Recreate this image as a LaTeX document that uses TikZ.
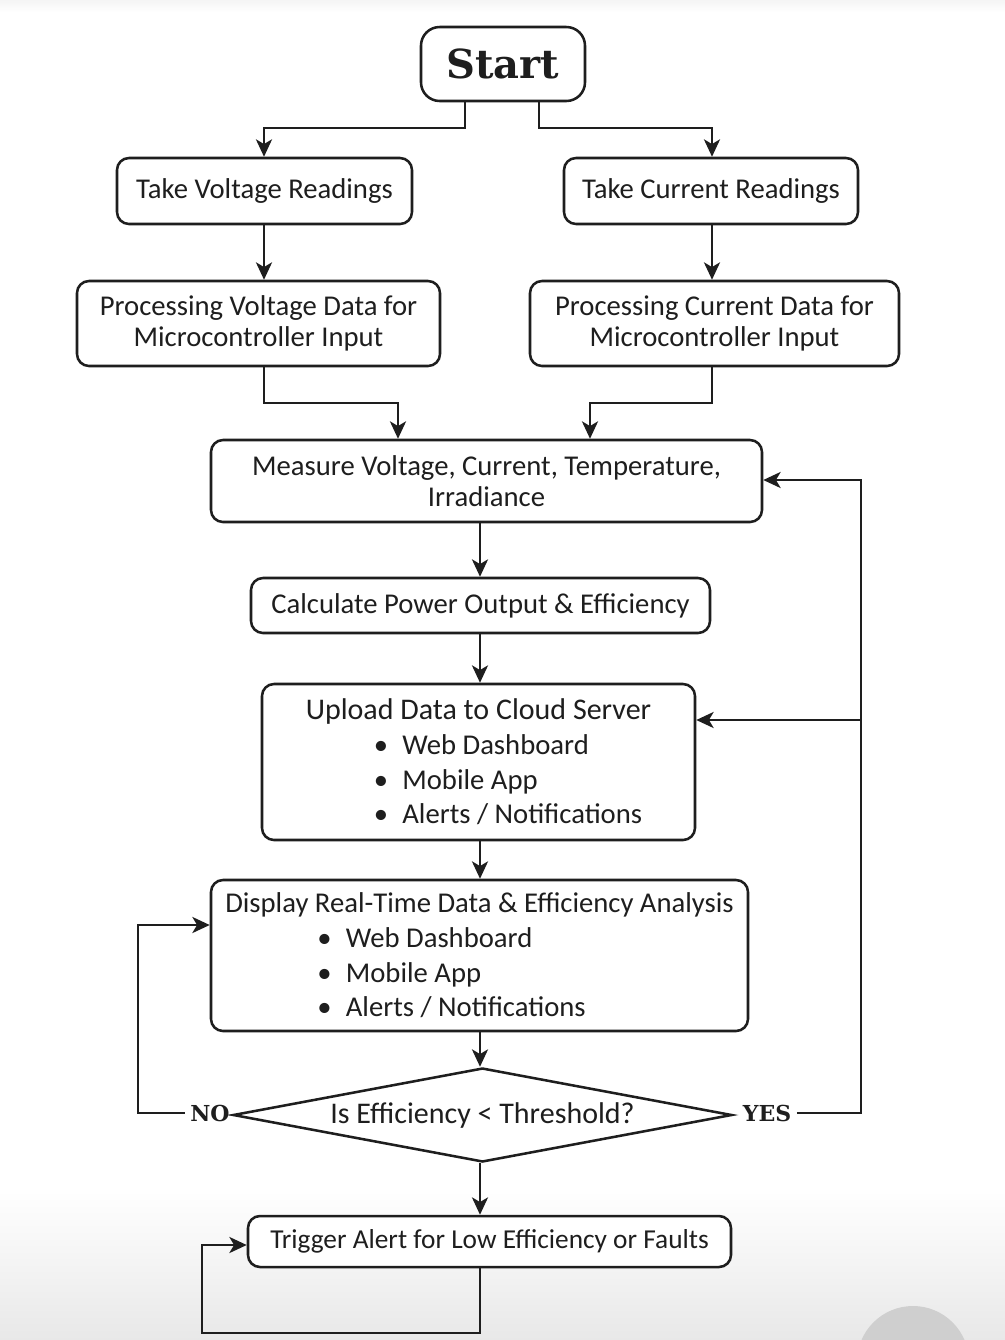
\documentclass[tikz,border=0pt]{standalone}
\usepackage{fontspec}
\setmainfont{Carlito}
\newfontfamily\slab{DejaVu Serif}
\usetikzlibrary{arrows.meta,shapes.geometric,calc}
\definecolor{ink}{HTML}{1E1E1E}
\begin{document}
\begin{tikzpicture}[x=0.75pt,y=-0.75pt,
  sz/.style 2 args={minimum width=#1*0.75pt, minimum height=#2*0.75pt},
  box/.style={draw=ink, line width=1.9pt, rounded corners=9pt, fill=white, text=ink,
    inner sep=0pt, align=center, font=\fontsize{21.5}{23}\selectfont},
  listbox/.style={box, align=left, font=\fontsize{21.5}{26}\selectfont},
  arr/.style={draw=ink, line width=1.9pt, -{Stealth[length=13pt,width=12pt,inset=3.5pt]}},
  lbl/.style={text=ink, inner sep=1pt, font=\slab\bfseries\fontsize{16.5}{16.5}\selectfont}]
\useasboundingbox (0,0) rectangle (1005,1340);
\fill[white] (0,0) rectangle (1005,1340);
\shade[top color=gray!8, bottom color=white] (0,0) rectangle (1005,12);
\shade[top color=white, bottom color=gray!18] (0,1190) rectangle (1005,1340);
\begin{scope}
  \clip (0,0) rectangle (1005,1340);
  \fill[gray!38] (913,1362) circle[radius=56];
\end{scope}

% nodes
\node[box, sz={164}{74}, rounded corners=14pt, font=\slab\bfseries\fontsize{30}{30}\selectfont] (start) at (503,64) {Start};
\node[box, sz={295}{66}] (tv) at (264.5,191) {Take Voltage Readings};
\node[box, sz={294}{66}] (tc) at (711,191) {Take Current Readings};
\node[box, sz={363}{85}] (pv) at (258.5,323.5) {Processing Voltage Data for\\Microcontroller Input};
\node[box, sz={369}{85}] (pc) at (714.5,323.5) {Processing Current Data for\\Microcontroller Input};
\node[box, sz={551}{82}] (meas) at (486.5,481) {Measure Voltage, Current, Temperature,\\Irradiance};
\node[box, sz={459}{55}] (calc) at (480.5,605.5) {Calculate Power Output \& Efficiency};
\node[listbox, sz={433}{156}] (up) at (478.5,762) {{\fontsize{22.5}{26}\selectfont Upload Data to Cloud Server}\\
  \hspace*{51pt}\textbullet\hspace{0.5em}Web Dashboard\\
  \hspace*{51pt}\textbullet\hspace{0.5em}Mobile App\\
  \hspace*{51pt}\textbullet\hspace{0.5em}Alerts / Notifications};
\node[listbox, sz={537}{151}] (disp) at (479.5,955.5) {Display Real-Time Data \& Efficiency Analysis\\
  \hspace*{69pt}\textbullet\hspace{0.5em}Web Dashboard\\
  \hspace*{69pt}\textbullet\hspace{0.5em}Mobile App\\
  \hspace*{69pt}\textbullet\hspace{0.5em}Alerts / Notifications};
\node[diamond, draw=ink, line width=1.9pt, fill=white, text=ink, inner sep=0pt, shape aspect=5.3,
  sz={499}{94}, font=\fontsize{22.5}{23}\selectfont] (dec) at (482.5,1115) {Is Efficiency < Threshold?};
\node[box, sz={483}{51}, font=\fontsize{20.5}{23}\selectfont] (trig) at (489.5,1241.5) {Trigger Alert for Low Efficiency or Faults};
\node[lbl] (nolab) at (210,1113) {NO};
\node[lbl] (yeslab) at (767,1113) {YES};

% helper coordinates
\coordinate (cx) at (480,0);
\coordinate (s1) at (465,128);
\coordinate (s2) at (539,128);
\coordinate (m1) at (398,403);
\coordinate (m2) at (590,403);
\coordinate (vx) at (264,0);
\coordinate (ix) at (712,0);
\coordinate (yN) at (138,925);
\coordinate (yY) at (861,480);
\coordinate (yU) at (861,720);
\coordinate (t1) at (202,1333);
\coordinate (t2) at (202,1245);

% connectors
\draw[arr] (start.south -| s1) -- (s1) -| (tv.north -| vx);
\draw[arr] (start.south -| s2) -- (s2) -| (tc.north -| ix);
\draw[arr] (tv.south -| vx) -- (pv.north -| vx);
\draw[arr] (tc.south -| ix) -- (pc.north -| ix);
\draw[arr] (pv.south -| vx) |- (m1) -- (meas.north -| m1);
\draw[arr] (pc.south -| ix) |- (m2) -- (meas.north -| m2);
\draw[arr] (meas.south -| cx) -- (calc.north -| cx);
\draw[arr] (calc.south -| cx) -- (up.north -| cx);
\draw[arr] (up.south -| cx) -- (disp.north -| cx);
\draw[arr] (disp.south -| cx) -- (dec.north -| cx);
\draw[arr] (dec.south -| cx) -- (trig.north -| cx);
\draw[arr] ([xshift=-3pt]nolab.west) -| (yN) -- (disp.west |- yN);
\draw[arr] ([xshift=3pt]yeslab.east) -| (yY) -- (meas.east |- yY);
\draw[arr] (yU) -- (up.east |- yU);
\draw[arr] (trig.south -| cx) |- (t1) |- (trig.west |- t2);
\end{tikzpicture}
\end{document}
